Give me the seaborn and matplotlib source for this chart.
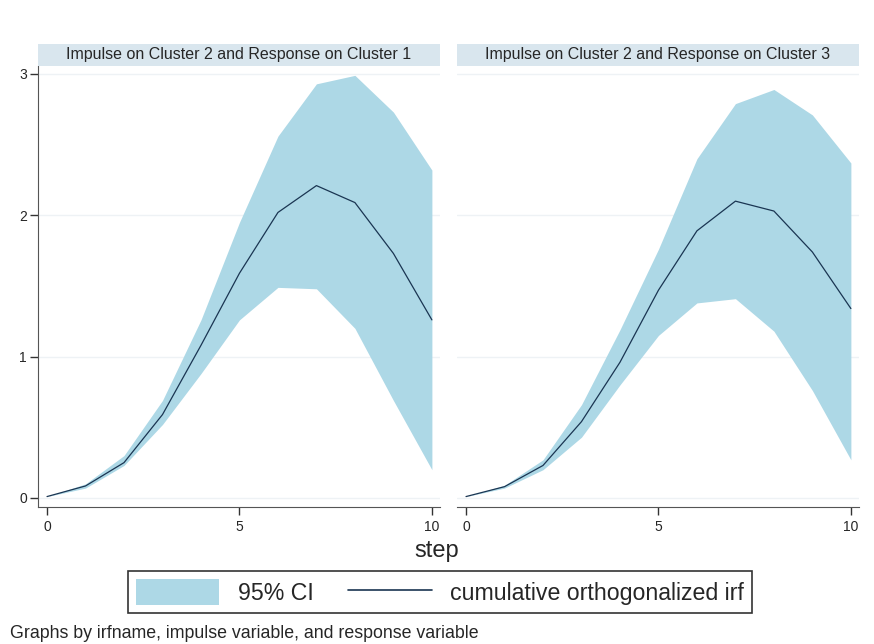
import numpy as np
import pandas as pd
import matplotlib
matplotlib.use("Agg")
import matplotlib.pyplot as plt
import seaborn as sns
from matplotlib.patches import Patch
from matplotlib.lines import Line2D

# Datos
pasos = list(range(11))
titulos = ["Impulse on Cluster 2 and Response on Cluster 1",
           "Impulse on Cluster 2 and Response on Cluster 3"]

irf_c1 = [0.01, 0.085, 0.25, 0.59, 1.08, 1.59, 2.02, 2.21, 2.09, 1.73, 1.26]
sup_c1 = [0.01, 0.10, 0.30, 0.69, 1.26, 1.95, 2.56, 2.93, 2.99, 2.73, 2.32]
inf_c1 = [0.01, 0.07, 0.23, 0.52, 0.88, 1.26, 1.49, 1.48, 1.20, 0.69, 0.20]

irf_c3 = [0.01, 0.08, 0.23, 0.54, 0.96, 1.47, 1.89, 2.10, 2.03, 1.74, 1.34]
sup_c3 = [0.01, 0.09, 0.27, 0.66, 1.19, 1.76, 2.40, 2.79, 2.89, 2.71, 2.37]
inf_c3 = [0.01, 0.07, 0.20, 0.43, 0.80, 1.15, 1.38, 1.41, 1.18, 0.76, 0.27]

paneles = [(irf_c1, sup_c1, inf_c1), (irf_c3, sup_c3, inf_c3)]

sns.set_style("white")
plt.rcParams['font.family'] = ['Liberation Sans', 'DejaVu Sans']

color_banda = "#add8e6"
color_linea = "#1a3552"
color_tira = "#d9e6ee"

fig = plt.figure(figsize=(8.74, 6.44), dpi=100)

posiciones = [0.0435, 0.5229]
ancho = 0.4599
abajo, alto = 0.2127, 0.685

for i, (irf, sup, inf) in enumerate(paneles):
    ax = fig.add_axes([posiciones[i], abajo, ancho, alto])
    df = pd.DataFrame({"step": pasos, "irf": irf})
    ax.fill_between(pasos, inf, sup, color=color_banda, linewidth=0, zorder=2)
    sns.lineplot(data=df, x="step", y="irf", ax=ax, color=color_linea,
                 linewidth=0.9, zorder=3)
    ax.set_xlim(-0.234, 10.21)
    ax.set_ylim(-0.064, 3.057)
    ax.set_xticks([0, 5, 10])
    ax.set_yticks([0, 1, 2, 3])
    for y in [0, 1, 2, 3]:
        ax.axhline(y, color="#eef2f5", linewidth=1.0, zorder=1)
    ax.set_xlabel("")
    ax.set_ylabel("")
    for s in ["top", "right"]:
        ax.spines[s].set_visible(False)
    ax.spines["bottom"].set_color("#555555")
    ax.spines["left"].set_color("#555555")
    ax.tick_params(axis="x", bottom=True, length=6, width=1, color="#333333",
                   labelsize=10, pad=3)
    ax.tick_params(axis="y", left=True, length=6, width=1, color="#333333",
                   labelsize=10, pad=2)
    if i == 1:
        ax.spines["left"].set_visible(False)
        ax.tick_params(axis="y", left=False, labelleft=False)

    # tira del titulo
    tira = fig.add_axes([posiciones[i], abajo + alto, ancho, 22 / 644])
    tira.set_facecolor(color_tira)
    tira.set_xticks([])
    tira.set_yticks([])
    for s in tira.spines.values():
        s.set_visible(False)
    tira.text(0.5, 0.5, titulos[i], ha="center", va="center", fontsize=11.5)

fig.text(0.5, 1 - 551 / 644, "step", ha="center", va="center", fontsize=17)

manejadores = [Patch(facecolor=color_banda, edgecolor="none"),
               Line2D([0], [0], color=color_linea, linewidth=1.2)]
leg = fig.legend(manejadores, ["95% CI", "cumulative orthogonalized irf"],
                 loc="center", bbox_to_anchor=(440 / 874, 1 - 592 / 644),
                 ncol=2, frameon=True, fancybox=False, edgecolor="black",
                 prop={"size": 16.7}, handlelength=3.6,
                 handleheight=1.3, columnspacing=1.5, borderpad=0.35)
leg.get_frame().set_linewidth(1.2)

fig.text(10 / 874, 1 - 634 / 644, "Graphs by irfname, impulse variable, and response variable",
         ha="left", va="center", fontsize=12.8)

fig.savefig("out.png", dpi=100)
